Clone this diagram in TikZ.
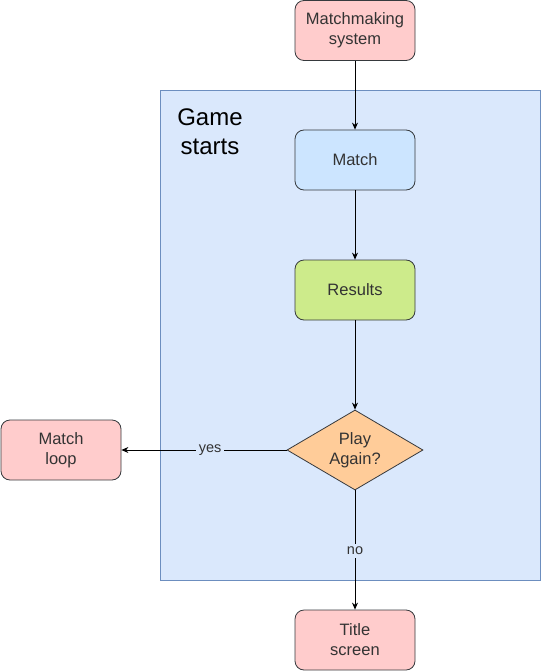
\documentclass[tikz,border=0pt]{standalone}
\usepackage{fontspec}
\setmainfont{Liberation Sans}
\usepackage{xcolor}
\usetikzlibrary{arrows.meta, positioning, shapes.geometric, calc}
\definecolor{groupfill}{HTML}{DAE8FC}
\definecolor{groupline}{HTML}{6C8EBF}
\definecolor{pinkfill}{HTML}{FFCCCC}
\definecolor{bluefill}{HTML}{CCE5FF}
\definecolor{greenfill}{HTML}{CDEB8B}
\definecolor{orangefill}{HTML}{FFCC99}
\definecolor{boxline}{HTML}{36393D}
\definecolor{textgray}{HTML}{333333}

\begin{document}
\begin{tikzpicture}[x=1pt, y=-1pt,
    stagebox/.style={rectangle, rounded corners=9pt, draw=boxline, line width=0.8pt,
      minimum width=120pt, minimum height=60pt, inner sep=2pt, align=center,
      font=\fontsize{16.5}{20}\selectfont, text=textgray},
    decision/.style={diamond, aspect=1.7, draw=boxline, line width=0.8pt, fill=orangefill,
      minimum width=136pt, minimum height=80pt, inner sep=0pt, align=center,
      font=\fontsize{16.5}{20}\selectfont, text=textgray},
    flow/.style={-{Stealth[length=7pt, width=6pt]}, line width=0.8pt, black},
    edgelabel/.style={fill=groupfill, inner sep=3pt, font=\fontsize{14.5}{17}\selectfont, text=textgray}
]
\useasboundingbox (0,0) rectangle (541,671);
\node[rectangle, draw=groupline, fill=groupfill, line width=0.8pt,
  minimum width=380pt, minimum height=490pt, inner sep=0pt] (game) at (350,335) {};
\node[align=center, font=\fontsize{24}{29}\selectfont, text=black] (gametitle) at (210,132) {Game\\starts};
\node[stagebox, fill=pinkfill]  (mm)      at (355,30.5)  {Matchmaking\\system};
\node[stagebox, fill=bluefill]  (match)   at (355,160)   {Match};
\node[stagebox, fill=greenfill] (results) at (355,290)   {Results};
\node[decision]                 (again)   at (355,450)   {Play\\Again?};
\node[stagebox, fill=pinkfill]  (loop)    at (61,450)    {Match\\loop};
\node[stagebox, fill=pinkfill]  (title)   at (355,640)   {Title\\screen};
\draw[flow] (mm) -- (match);
\draw[flow] (match) -- (results);
\draw[flow] (results) -- (again);
\draw[flow] (again) -- node[edgelabel, pos=0.463] {yes} (loop);
\draw[flow] (again) -- node[edgelabel, pos=0.508] {no} (title);
\end{tikzpicture}
\end{document}
